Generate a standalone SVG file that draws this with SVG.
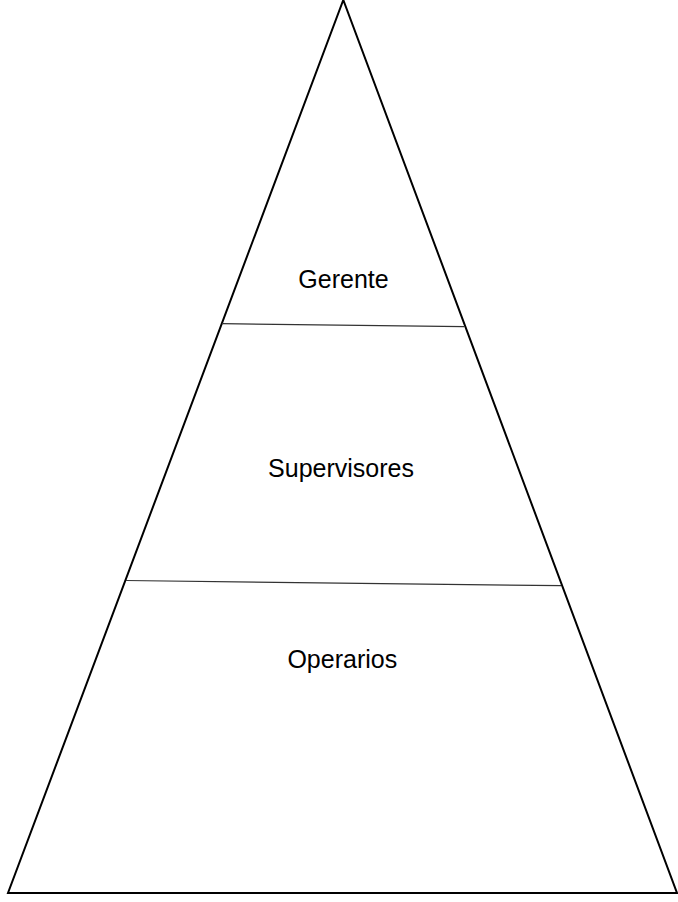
<svg xmlns="http://www.w3.org/2000/svg" width="678" height="902" viewBox="0 0 678 902">
<style>
.tri{fill:#fff;stroke:#000;stroke-width:2;stroke-linejoin:miter}
.div{fill:none;stroke:#333;stroke-width:1.2}
.lbl{font-family:"Liberation Sans",Arial,sans-serif;font-size:25px;fill:#000;text-anchor:middle}
</style>
<rect width="678" height="902" fill="#fff"/>
<g id="pyramid">
<polygon class="tri" points="343.3,0 8,893 677,893"/>
</g>
<g id="connectors">
<line class="div" x1="222" y1="323.7" x2="464" y2="326.7"/>
<line class="div" x1="126" y1="580.5" x2="561" y2="585.7"/>
</g>
<g id="gerente"><text class="lbl" x="343.5" y="287.5">Gerente</text></g>
<g id="supervisores"><text class="lbl" x="341" y="476.7">Supervisores</text></g>
<g id="operarios"><text class="lbl" x="342.3" y="667.5">Operarios</text></g>
</svg>
